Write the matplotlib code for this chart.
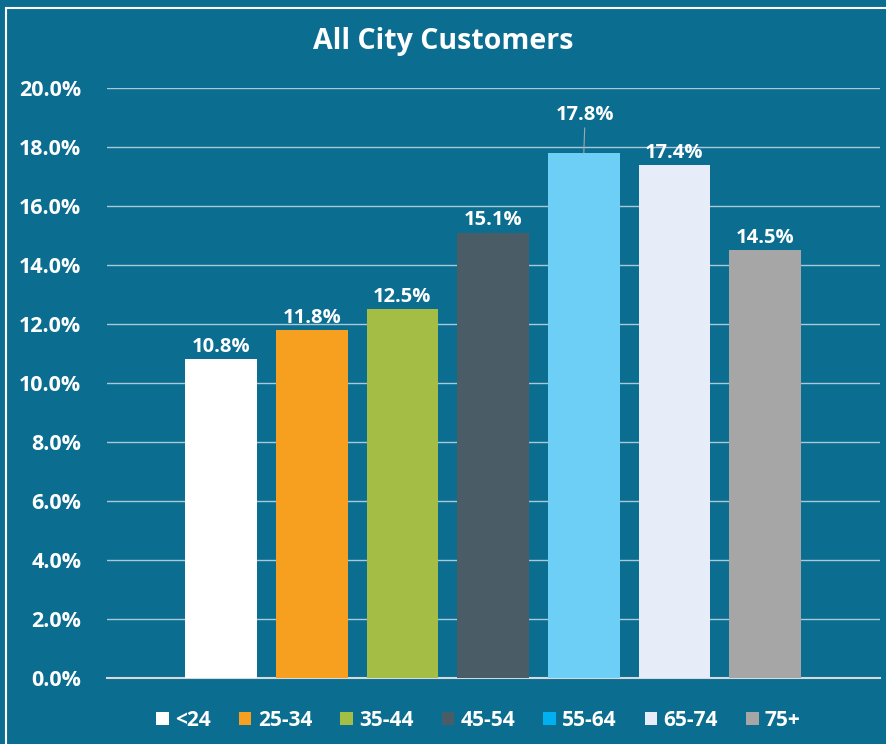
import matplotlib
matplotlib.use('Agg')
import matplotlib.pyplot as plt
from matplotlib.patches import Patch, Rectangle

# Data
ages = ['<24', '25-34', '35-44', '45-54', '55-64', '65-74', '75+']
shares = [10.8, 11.8, 12.5, 15.1, 17.8, 17.4, 14.5]
bar_colors = ['#FFFFFF', '#F79F1F', '#A4BE45', '#4A5C66', '#6DCFF6', '#E6EDF8', '#A6A6A6']
legend_colors = ['#FFFFFF', '#F79F1F', '#A4BE45', '#4A5C66', '#00B0F0', '#E6EDF8', '#A6A6A6']
label_lift = [0, 0, 0, 0, 1, 0, 0]  # 17.8% label is pulled up with a leader line

BG = '#0B6E91'
plt.rcParams['font.family'] = ['Open Sans', 'DejaVu Sans']

W, H = 886, 744
fig = plt.figure(figsize=(W / 100, H / 100), dpi=100, facecolor=BG)

# white frame round the chart area
fig.patches.append(Rectangle((6 / W, -0.1), 1.2, 1 - 8 / H + 0.1, transform=fig.transFigure,
                             fill=False, edgecolor='white', linewidth=1.5))

ax = fig.add_axes([107 / W, 1 - 678 / H, (880 - 107) / W, (678 - 88) / H])
ax.set_facecolor(BG)

x = list(range(len(ages)))
ax.bar(x, shares, width=0.79, color=bar_colors, zorder=3)

ax.set_xlim(-1.257, 7.266)
ax.set_ylim(0, 20)
ax.set_yticks([i * 2 for i in range(11)])
ax.set_yticklabels([f'{i * 2:.1f}%' for i in range(11)])
ax.set_xticks([])
ax.tick_params(axis='y', length=0, pad=18.5, labelsize=15.5, labelcolor='white')
for lab in ax.get_yticklabels():
    lab.set_fontweight('bold')

ax.grid(axis='y', color='#A9C9D6', linewidth=1, zorder=0)
for side in ['top', 'right', 'left']:
    ax.spines[side].set_visible(False)
ax.spines['bottom'].set_color('#D9D9D9')
ax.spines['bottom'].set_linewidth(1.5)

for xi, v, lift in zip(x, shares, label_lift):
    if lift:
        ax.annotate(f'{v:.1f}%', xy=(xi, v), xytext=(1, 20), textcoords='offset points',
                    ha='center', va='bottom', color='white', fontsize=14.5, fontweight='bold',
                    arrowprops=dict(arrowstyle='-', color='#9FA8AD', lw=0.8,
                                    shrinkA=0, shrinkB=0))
    else:
        ax.annotate(f'{v:.1f}%', xy=(xi, v), xytext=(0, 1.5), textcoords='offset points',
                    ha='center', va='bottom', color='white', fontsize=14.5, fontweight='bold')

fig.text(0.5, 1 - 42 / H, 'All City Customers', ha='center', va='center',
         color='white', fontsize=20.5, fontweight='bold')

handles = [Patch(facecolor=c, edgecolor='none', label=a) for a, c in zip(ages, legend_colors)]
leg = fig.legend(handles=handles, loc='center', bbox_to_anchor=(0.54, 1 - 720 / H), ncol=7,
                 frameon=False, fontsize=15, handlelength=0.6, handleheight=0.6,
                 handletextpad=0.3, columnspacing=1.35)
for t in leg.get_texts():
    t.set_color('white')
    t.set_fontweight('bold')

fig.savefig('out.png', dpi=100, facecolor=BG)
